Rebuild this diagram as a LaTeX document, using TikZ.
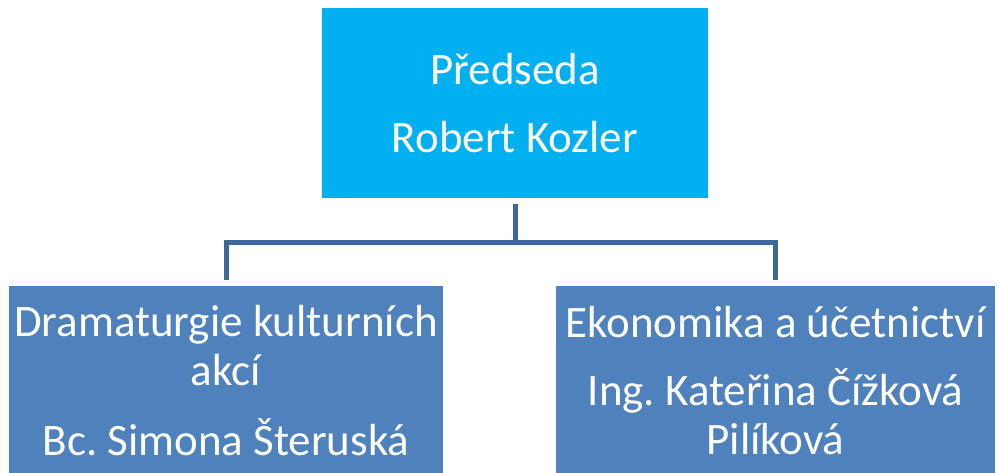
\documentclass[tikz,border=0pt]{standalone}
\usepackage{fontspec}
\setmainfont{Carlito}
\frenchspacing
\definecolor{chaircol}{RGB}{0,176,240}
\definecolor{unitcol}{RGB}{79,129,189}
\definecolor{linkcol}{RGB}{62,104,152}
\tikzset{
  box/.style={fill=#1, text=white, inner sep=0pt, align=center,
    font=\fontsize{45}{49}\selectfont},
  link/.style={draw=linkcol, line width=5pt}
}
\begin{document}
\begin{tikzpicture}[x=1pt, y=1pt]
    \useasboundingbox (0,0) rectangle (997,-472);

    \node[box=chaircol, minimum width=386pt, minimum height=190pt] (chair) at (515,-103)
      {Předseda\\[19pt]Robert Kozler};
    \node[box=unitcol, minimum width=434pt, minimum height=190pt] (drama) at (226,-381)
      {Dramaturgie kulturních\\akcí\\[21pt]Bc. Simona Šteruská};
    \node[box=unitcol, minimum width=439pt, minimum height=190pt] (econ) at (775.5,-381)
      {Ekonomika a účetnictví\\[19pt]Ing. Kateřina Čížková\\Pilíková};

    \coordinate (bus) at (515,-242);
    \draw[link, shorten <=6pt] (chair.south) -- (bus);
    \draw[link, shorten <=6pt, shorten >=6pt] (drama.north) |- (bus) -| (econ.north);
  \end{tikzpicture}
\end{document}
